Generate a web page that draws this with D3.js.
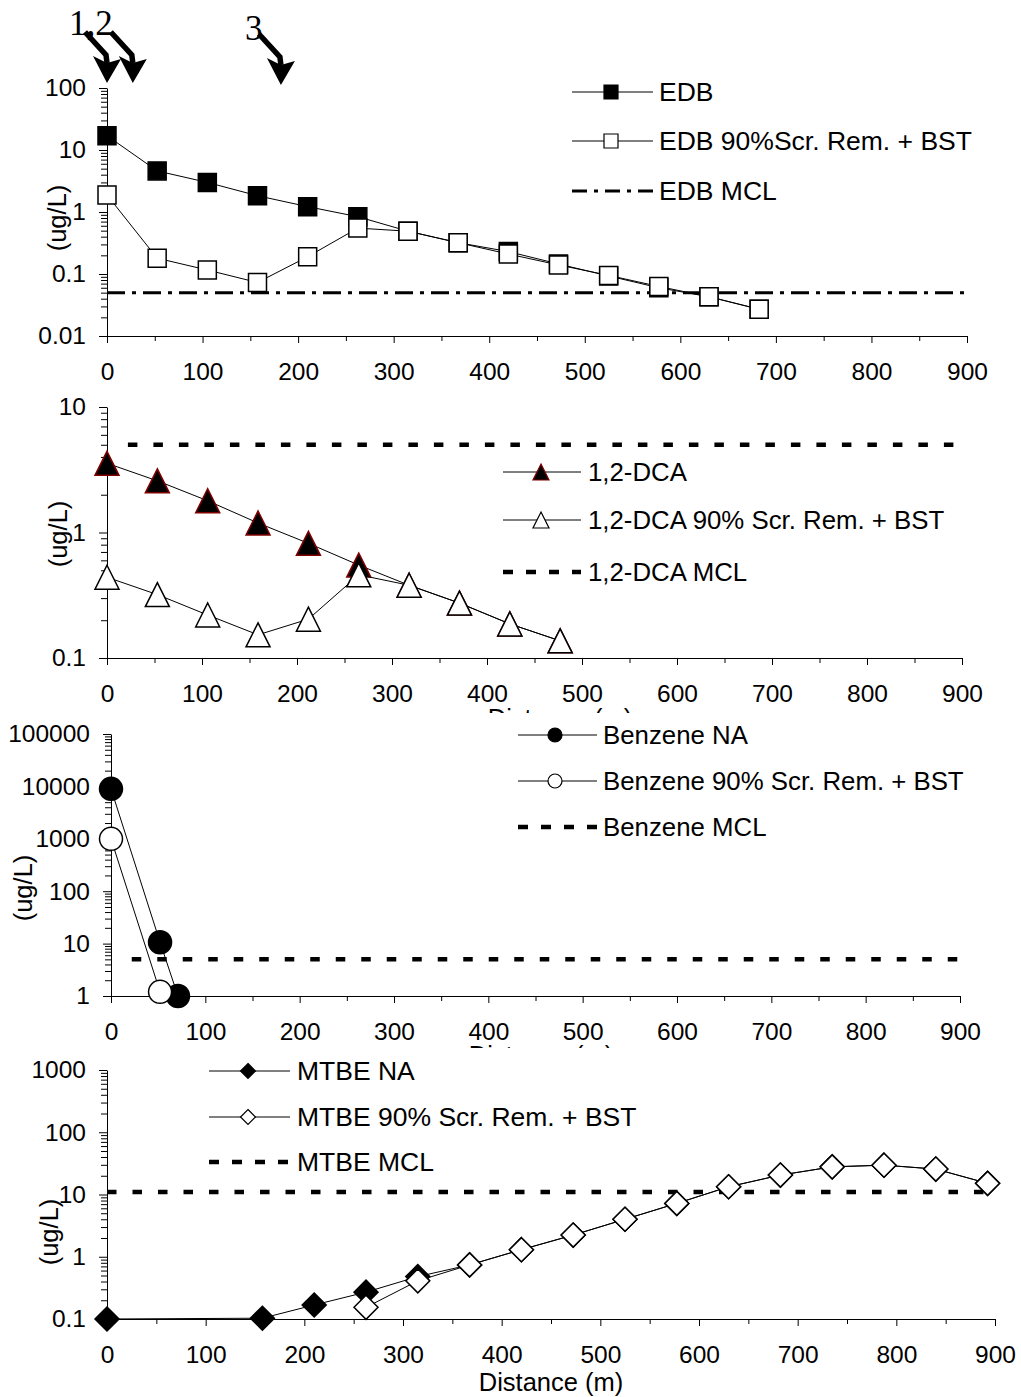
<!DOCTYPE html>
<html>
<head>
<meta charset="utf-8">
<script src="https://cdn.jsdelivr.net/npm/d3@7"></script>
<style>
  body { margin: 0; background: #fff; }
  svg text { font-family: "Liberation Sans", Arial, sans-serif; fill: #000; }
</style>
</head>
<body>
<script>
// ---- Shared axis values ----
const distanceTicks = [0, 100, 200, 300, 400, 500, 600, 700, 800, 900];
const distanceMinorTicks = [50, 150, 250, 350, 450, 550, 650, 750, 850];
const distanceTitle = "Distance (m)";
const concTitle = "(ug/L)";

// ---- Well locations along the flow path ----
const wellLabels = ["1,2", "3"];
const wellArrowDistance = [[0, 27], [182]];

// ---- EDB ----
const edbDistance = [0, 52.5, 105, 157.5, 210, 262.5, 315, 367.5, 420, 472.5, 525, 577.5, 630, 682.5];
const edbNA = [17, 4.6, 3.0, 1.83, 1.22, 0.84, 0.49, 0.32, 0.23, 0.145, 0.093, 0.06, 0.043, 0.027];
const edbTreated = [1.88, 0.18, 0.116, 0.073, 0.19, 0.55, 0.49, 0.32, 0.21, 0.14, 0.095, 0.063, 0.043, 0.027];
const edbMCL = 0.05;
const edbMCLRange = [0, 900];
const edbTicks = [0.01, 0.1, 1, 10, 100];
const edbLegend = ["EDB", "EDB 90%Scr. Rem. + BST", "EDB MCL"];

// ---- 1,2-DCA ----
const dcaDistance = [0, 53, 106, 159, 212, 265, 318, 371, 424, 477];
const dcaNA = [3.56, 2.58, 1.79, 1.19, 0.82, 0.55, 0.38, 0.274, 0.187, 0.137];
const dcaTreated = [0.44, 0.32, 0.22, 0.153, 0.204, 0.46, 0.38, 0.274, 0.187, 0.137];
const dcaMCL = 5;
const dcaMCLRange = [22, 900];
const dcaTicks = [0.1, 1, 10];
const dcaLegend = ["1,2-DCA", "1,2-DCA 90% Scr. Rem. + BST", "1,2-DCA MCL"];

// ---- Benzene ----
const benzeneNADistance = [0, 52, 71];
const benzeneNA = [9000, 10.6, 1];
const benzeneTreatedDistance = [0, 52];
const benzeneTreated = [1000, 1.2];
const benzeneMCL = 5;
const benzeneMCLRange = [22, 900];
const benzeneTicks = [1, 10, 100, 1000, 10000, 100000];
const benzeneLegend = ["Benzene NA", "Benzene 90% Scr. Rem. + BST", "Benzene MCL"];

// ---- MTBE ----
const mtbeNADistance = [0, 157.5, 210, 262.5, 315, 367.5, 420, 472.5, 525, 577.5, 630, 682.5, 735, 787.5, 840, 892.5];
const mtbeNA = [0.1, 0.103, 0.168, 0.27, 0.48, 0.74, 1.3, 2.23, 4.0, 7.2, 13.3, 20.5, 27.8, 29.6, 25.6, 15.1];
const mtbeTreatedDistance = [262.5, 315, 367.5, 420, 472.5, 525, 577.5, 630, 682.5, 735, 787.5, 840, 892.5];
const mtbeTreated = [0.154, 0.41, 0.74, 1.3, 2.23, 4.0, 7.2, 13.3, 20.5, 27.8, 29.6, 25.6, 15.1];
const mtbeMCL = 11;
const mtbeMCLRange = [0, 900];
const mtbeTicks = [0.1, 1, 10, 100, 1000];
const mtbeLegend = ["MTBE NA", "MTBE 90% Scr. Rem. + BST", "MTBE MCL"];

// ---- Marker shapes (centred on 0,0) ----
const shapes = {
  square: s => `M${-s/2},${-s/2}H${s/2}V${s/2}H${-s/2}Z`,
  triangle: s => `M0,${-s/2}L${s/2},${s/2}H${-s/2}Z`,
  diamond: s => `M0,${-s/2}L${s/2},0L0,${s/2}L${-s/2},0Z`,
  circle: s => `M${-s/2},0A${s/2},${s/2} 0 1,0 ${s/2},0A${s/2},${s/2} 0 1,0 ${-s/2},0Z`
};

const W = 1021, H = 1397;
const svg = d3.select("body").append("svg")
  .attr("width", W).attr("height", H)
  .attr("viewBox", `0 0 ${W} ${H}`);
svg.append("rect").attr("width", W).attr("height", H).attr("fill", "#fff");

const defs = svg.append("defs");

function logMinors(ticks) {
  const out = [];
  for (let i = 0; i < ticks.length - 1; i++)
    for (let k = 2; k <= 9; k++) out.push(ticks[i] * k);
  return out;
}

function drawPanel(p) {
  const g = svg.append("g");
  const x = d3.scaleLinear().domain([0, 900]).range([p.x0, p.x1]);
  const y = d3.scaleLog().domain([p.ticks[0], p.ticks[p.ticks.length - 1]]).range([p.yBottom, p.yTop]);

  // x axis
  g.append("g").attr("transform", `translate(0,${p.yBottom})`)
    .call(d3.axisBottom(x).tickValues(distanceTicks).tickSize(7).tickSizeOuter(0).tickPadding(20).tickFormat(d3.format("d")));
  g.append("g").attr("transform", `translate(0,${p.yBottom})`)
    .call(d3.axisBottom(x).tickValues(distanceMinorTicks).tickSize(5).tickSizeOuter(0).tickFormat(""))
    .select(".domain").remove();

  // y axis
  g.append("g").attr("transform", `translate(${p.x0},0)`)
    .call(d3.axisLeft(y).tickValues(p.ticks).tickSize(8).tickSizeOuter(0).tickPadding(13).tickFormat(d3.format("~g")));
  g.append("g").attr("transform", `translate(${p.x0},0)`)
    .call(d3.axisLeft(y).tickValues(logMinors(p.ticks)).tickSize(6).tickSizeOuter(0).tickFormat(""))
    .select(".domain").remove();

  g.selectAll(".tick line, .domain").attr("stroke", "#000").attr("stroke-width", 1);
  g.selectAll(".tick text").attr("font-size", 24.5).attr("font-family", "Liberation Sans, Arial, sans-serif");

  // y title
  g.append("text")
    .attr("transform", `translate(${p.yTitle[0]},${p.yTitle[1]}) rotate(-90)`)
    .attr("text-anchor", "middle").attr("dy", "0.35em")
    .attr("font-size", 25.5).text(concTitle);

  // x title (partly hidden by the panel below for the upper panels)
  if (p.xTitle) {
    const t = g.append("text")
      .attr("x", p.xTitle[0]).attr("y", p.xTitle[1])
      .attr("text-anchor", "middle").attr("font-size", 25.5).text(distanceTitle);
    if (p.xTitleClip) {
      const id = "clip" + p.id;
      defs.append("clipPath").attr("id", id).append("rect")
        .attr("x", 0).attr("y", 0).attr("width", W).attr("height", p.xTitleClip);
      t.attr("clip-path", `url(#${id})`);
    }
  }

  // MCL line (under the series)
  g.append("line")
    .attr("x1", x(p.mclRange[0])).attr("x2", x(p.mclRange[1]))
    .attr("y1", y(p.mcl)).attr("y2", y(p.mcl))
    .attr("stroke", "#000").attr("stroke-width", p.mclWidth)
    .attr("stroke-dasharray", p.mclDash);

  // series: the natural-attenuation run first, the treated run on top
  p.series.forEach(s => {
    const pts = s.dist.map((d, i) => [x(d), y(s.values[i])]);
    g.append("path").attr("d", d3.line()(pts))
      .attr("fill", "none").attr("stroke", "#000").attr("stroke-width", 1);
    g.selectAll(null).data(pts).join("path")
      .attr("transform", d => `translate(${d[0]},${d[1]})`)
      .attr("d", shapes[p.shape](p.size))
      .attr("fill", s.fill).attr("stroke", s.stroke).attr("stroke-width", 1.5);
  });

  // legend
  const L = p.legend;
  p.series.forEach((s, i) => {
    const ly = L.ys[i];
    g.append("line").attr("x1", L.x0).attr("x2", L.x1).attr("y1", ly).attr("y2", ly)
      .attr("stroke", "#000").attr("stroke-width", 1);
    g.append("path").attr("transform", `translate(${L.mx},${ly})`)
      .attr("d", shapes[p.shape](L.size))
      .attr("fill", s.fill).attr("stroke", s.stroke).attr("stroke-width", 1.2);
  });
  const my = L.ys[2];
  g.append("line").attr("x1", L.x0).attr("x2", L.x1).attr("y1", my).attr("y2", my)
    .attr("stroke", "#000").attr("stroke-width", p.mclWidth)
    .attr("stroke-dasharray", L.mclDash || p.mclDash);
  p.legendText.forEach((t, i) => {
    g.append("text").attr("x", L.tx).attr("y", L.ys[i]).attr("dy", "0.35em")
      .attr("font-size", L.font).text(t);
  });

  return { x, y, g };
}

// ---- EDB panel ----
const edb = drawPanel({
  id: 1, x0: 107, x1: 967, yTop: 88, yBottom: 336, ticks: edbTicks,
  yTitle: [57, 218], xTitle: null,
  mcl: edbMCL, mclRange: edbMCLRange, mclWidth: 3, mclDash: "18,7,4,7",
  shape: "square", size: 18,
  series: [
    { dist: edbDistance, values: edbNA, fill: "#000", stroke: "#000" },
    { dist: edbDistance, values: edbTreated, fill: "#fff", stroke: "#000" }
  ],
  legend: { x0: 572, x1: 653, mx: 611, tx: 659, ys: [92, 141, 191], size: 14, font: 26.5, mclDash: "15,7,4,7" },
  legendText: edbLegend
});

// well location arrows above the EDB panel
wellArrowDistance.forEach((group, gi) => {
  group.forEach(d => {
    const tx = edb.x(d);
    const ty = gi === 0 ? 83 : 85;
    svg.append("path")
      .attr("d", `M${tx - 22},${ty - 51}L${tx - 1},${ty - 28}L${tx},${ty - 20}`)
      .attr("fill", "none").attr("stroke", "#000").attr("stroke-width", 5.5);
    svg.append("path")
      .attr("d", `M${tx - 14},${ty - 27}L${tx},${ty - 20}L${tx + 14},${ty - 24}L${tx},${ty}Z`)
      .attr("fill", "#000");
  });
  const first = edb.x(group[0]);
  svg.append("text")
    .attr("x", gi === 0 ? first - 38 : first - 36)
    .attr("y", gi === 0 ? 35 : 40)
    .style("font-family", "'Liberation Serif', 'Times New Roman', serif")
    .attr("font-size", 35).text(wellLabels[gi]);
});

// ---- 1,2-DCA panel ----
drawPanel({
  id: 2, x0: 107, x1: 962, yTop: 407, yBottom: 658, ticks: dcaTicks,
  yTitle: [58, 534], xTitle: [560, 727], xTitleClip: 713,
  mcl: dcaMCL, mclRange: dcaMCLRange, mclWidth: 4.5, mclDash: "9.5,16",
  shape: "triangle", size: 24,
  series: [
    { dist: dcaDistance, values: dcaNA, fill: "#000", stroke: "#800000" },
    { dist: dcaDistance, values: dcaTreated, fill: "#fff", stroke: "#000" }
  ],
  legend: { x0: 503, x1: 581, mx: 541, tx: 588, ys: [472, 520, 572], size: 16, font: 25.8, mclDash: "10,13" },
  legendText: dcaLegend
});

// ---- Benzene panel ----
drawPanel({
  id: 3, x0: 111, x1: 960, yTop: 734, yBottom: 996, ticks: benzeneTicks,
  yTitle: [23, 888], xTitle: [541, 1064], xTitleClip: 1048,
  mcl: benzeneMCL, mclRange: benzeneMCLRange, mclWidth: 4.5, mclDash: "9.5,16",
  shape: "circle", size: 23,
  series: [
    { dist: benzeneNADistance, values: benzeneNA, fill: "#000", stroke: "#000" },
    { dist: benzeneTreatedDistance, values: benzeneTreated, fill: "#fff", stroke: "#000" }
  ],
  legend: { x0: 518, x1: 597, mx: 555, tx: 603, ys: [735, 781, 827], size: 14, font: 25.8, mclDash: "10,13" },
  legendText: benzeneLegend
});

// ---- MTBE panel ----
drawPanel({
  id: 4, x0: 107, x1: 995, yTop: 1070, yBottom: 1319, ticks: mtbeTicks,
  yTitle: [49, 1232], xTitle: [551, 1391], xTitleClip: null,
  mcl: mtbeMCL, mclRange: mtbeMCLRange, mclWidth: 4.5, mclDash: "9.5,16",
  shape: "diamond", size: 24,
  series: [
    { dist: mtbeNADistance, values: mtbeNA, fill: "#000", stroke: "#000" },
    { dist: mtbeTreatedDistance, values: mtbeTreated, fill: "#fff", stroke: "#000" }
  ],
  legend: { x0: 209, x1: 290, mx: 248, tx: 297, ys: [1071, 1117, 1162], size: 15, font: 26.5, mclDash: "10,13" },
  legendText: mtbeLegend
});
</script>
</body>
</html>
